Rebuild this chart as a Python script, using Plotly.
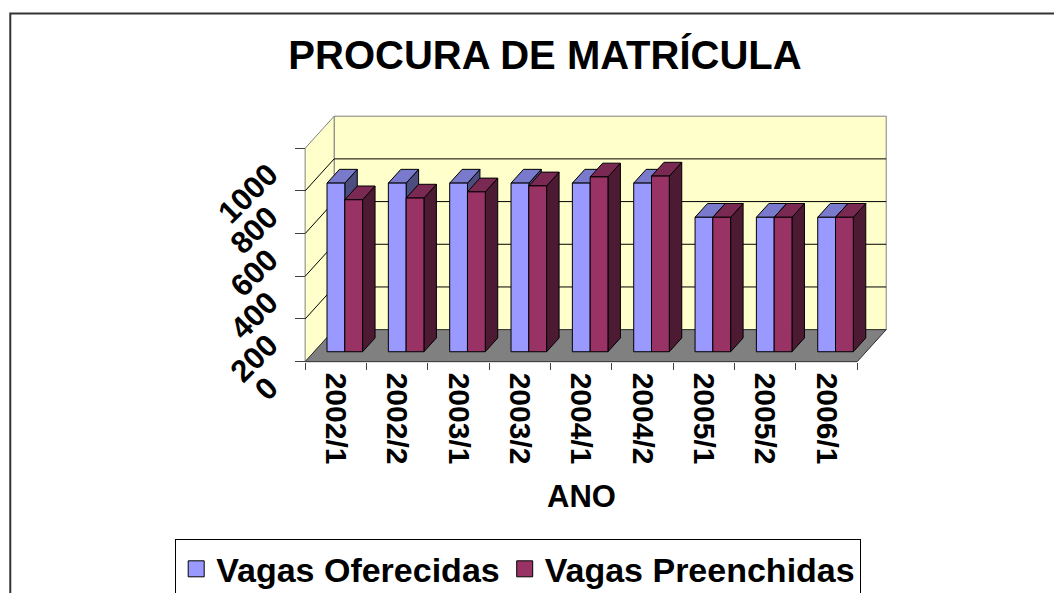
import plotly.graph_objects as go

# ---------------- data ----------------
categories = ["2002/1", "2002/2", "2003/1", "2003/2", "2004/1",
              "2004/2", "2005/1", "2005/2", "2006/1"]
vagas_oferecidas = [790, 790, 790, 790, 790, 790, 630, 630, 630]
vagas_preenchidas = [712, 720, 749, 777, 819, 823, 630, 630, 630]
series_names = ["Vagas Oferecidas", "Vagas Preenchidas"]
y_ticks = [0, 200, 400, 600, 800, 1000]
grid_values = [200, 400, 600, 800]
x_title = "ANO"
chart_title = "PROCURA DE MATRÍCULA"

# ---------------- styles / geometry ----------------
PAGE_W, PAGE_H = 1062, 593
OFF = 8                          # default page body margin
W, H = PAGE_W - OFF, PAGE_H - OFF
FONT = "Liberation Sans, Arial, sans-serif"
DX, DY = 0.473, 150.0            # oblique projection of one unit of depth
Y_TOP = 1000
BAR_W = 0.29
GROUP_OFF = 0.21
Z0, Z1 = 0.31, 0.74
FRONT = ["#9999FF", "#993366"]
TOP = ["#7A7ACC", "#7A2952"]
SIDE = ["#4D4D80", "#4D1A33"]
WALL = "#FFFFCC"
FLOOR = "#808080"

# page-pixel anchors of the front axes
PX_X0, PX_PER_X = 305.0 - OFF, 61.37
PX_Y0, PX_PER_Y = 362.0 - OFF, 0.2139
xr = [-0.1, 9.6]
yr = [-25, 1165]
ml = PX_X0 + xr[0] * PX_PER_X
mr = W - (PX_X0 + xr[1] * PX_PER_X)
mt = PX_Y0 - yr[1] * PX_PER_Y
mb = H - (PX_Y0 - yr[0] * PX_PER_Y)
PW = W - ml - mr
PH = H - mt - mb


def px_to_paper_x(page_px):
    return (page_px - OFF - ml) / PW


def px_to_paper_y(page_py):
    return (H - mb - (page_py - OFF)) / PH


def proj(x, y, z):
    return x + z * DX, y + z * DY


def poly(points, fill, line, width=1):
    xs, ys = [], []
    for p in points:
        px, py = proj(*p)
        xs.append(px)
        ys.append(py)
    xs.append(xs[0])
    ys.append(ys[0])
    return go.Scatter(x=xs, y=ys, mode="lines", fill="toself", fillcolor=fill,
                      line=dict(color=line, width=width), hoverinfo="skip",
                      showlegend=False)


fig = go.Figure()
n = len(categories)

# back wall
fig.add_trace(poly([(0, 0, 1), (n, 0, 1), (n, Y_TOP, 1), (0, Y_TOP, 1)], WALL, "#808080"))
# side wall
fig.add_trace(poly([(0, 0, 0), (0, 0, 1), (0, Y_TOP, 1), (0, Y_TOP, 0)], WALL, "#808080"))
# gridlines
gx, gy = [], []
for v in grid_values:
    for p in [(0, v, 0), (0, v, 1), (n, v, 1)]:
        a, b_ = proj(*p)
        gx.append(a)
        gy.append(b_)
    gx.append(None)
    gy.append(None)
fig.add_trace(go.Scatter(x=gx, y=gy, mode="lines", line=dict(color="#000000", width=1),
                         hoverinfo="skip", showlegend=False))
# floor
fig.add_trace(poly([(0, 0, 0), (n, 0, 0), (n, 0, 1), (0, 0, 1)], FLOOR, "#303030"))

# bars
series = [vagas_oferecidas, vagas_preenchidas]
for i in range(n):
    for s, vals in enumerate(series):
        v = vals[i]
        x0 = i + GROUP_OFF + s * BAR_W
        x1 = x0 + BAR_W
        fig.add_trace(poly([(x1, 0, Z0), (x1, 0, Z1), (x1, v, Z1), (x1, v, Z0)], SIDE[s], "#000000"))
        fig.add_trace(poly([(x0, v, Z0), (x1, v, Z0), (x1, v, Z1), (x0, v, Z1)], TOP[s], "#000000"))
        fig.add_trace(poly([(x0, 0, Z0), (x1, 0, Z0), (x1, v, Z0), (x0, v, Z0)], FRONT[s], "#000000"))

# legend entries
for s, name in enumerate(series_names):
    fig.add_trace(go.Scatter(x=[None], y=[None], mode="markers", name=name,
                             marker=dict(symbol="square", size=16, color=FRONT[s],
                                         line=dict(color="#000000", width=1))))

fig.update_layout(
    width=W, height=H,
    margin=dict(l=ml, r=mr, t=mt, b=mb, pad=0, autoexpand=False),
    paper_bgcolor="white", plot_bgcolor="rgba(0,0,0,0)",
    font=dict(family=FONT, color="#000000"),
    title=dict(text=chart_title, x=(545 - OFF) / W, xref="container", xanchor="center",
               y=1 - (55 - OFF) / H, yref="container", yanchor="middle",
               font=dict(family=FONT, size=40, weight="bold", color="#000000")),
    showlegend=True,
    legend=dict(orientation="h", xref="paper", yref="paper",
                x=px_to_paper_x(175), xanchor="left",
                y=px_to_paper_y(570), yanchor="middle",
                bordercolor="#000000", borderwidth=1, bgcolor="white",
                font=dict(family=FONT, size=34, weight="bold", color="#000000"),
                itemsizing="trace"),
)

fig.update_xaxes(
    range=xr, anchor="free", position=(0 - yr[0]) / (yr[1] - yr[0]),
    automargin=False,
    showgrid=False, zeroline=False, showline=False,
    tickmode="array", tickvals=[i + 0.5 for i in range(n)], ticktext=categories,
    tickangle=90, ticks="", ticklabelstandoff=10,
    tickfont=dict(family=FONT, size=30, weight="bold", color="#000000"),
    minor=dict(tickmode="array", tickvals=list(range(n + 1)), ticks="outside",
               ticklen=7, tickcolor="#404040", tickwidth=1),
    fixedrange=True,
)
fig.update_yaxes(
    range=yr, anchor="free", position=(0 - xr[0]) / (xr[1] - xr[0]),
    automargin=False,
    showgrid=False, zeroline=False, showline=False,
    tickmode="array", tickvals=y_ticks, ticktext=[str(v) for v in y_ticks],
    tickangle=-45, ticks="outside", ticklen=10, tickcolor="#404040", tickwidth=1,
    ticklabelshift=22, ticklabelstandoff=20,
    tickfont=dict(family=FONT, size=31, weight="bold", color="#000000"),
    fixedrange=True,
)

# axis title
fig.add_annotation(text=x_title, x=n / 2, xref="x", y=px_to_paper_y(497), yref="paper",
                   yanchor="middle", showarrow=False,
                   font=dict(family=FONT, size=31, weight="bold", color="#000000"))

# chart border
fig.add_shape(type="rect", xref="paper", yref="paper",
              x0=px_to_paper_x(10), x1=px_to_paper_x(PAGE_W + 20),
              y0=px_to_paper_y(PAGE_H + 20), y1=px_to_paper_y(13),
              line=dict(color="#333333", width=2), fillcolor="rgba(0,0,0,0)", layer="below")

fig.write_html("out.html")
